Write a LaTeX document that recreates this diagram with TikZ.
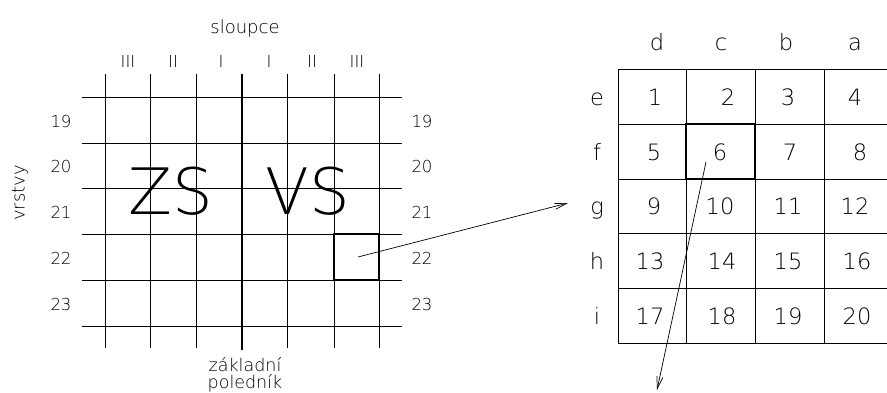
\documentclass[tikz,border=0pt]{standalone}
\usepackage{fontspec}
\IfFontExistsTF{DejaVu Sans ExtraLight}
  {\setmainfont{DejaVu Sans ExtraLight}\def\txtcol{black}}
  {\setmainfont{DejaVu Sans}\def\txtcol{black!60}}
\usetikzlibrary{arrows.meta}
\begin{document}
\begin{tikzpicture}[x=1pt,y=-1pt,
  gridline/.style={line width=0.8pt, black},
  boldline/.style={line width=2.6pt, black},
  txt/.style={inner sep=0pt, anchor=base, text=\txtcol},
  small/.style={txt, font=\fontsize{16.5}{16.5}\selectfont},
  mid/.style={txt, font=\fontsize{18}{18}\selectfont},
  foot/.style={txt, font=\fontsize{17.5}{17.5}\selectfont},
  big/.style={txt, font=\fontsize{22.5}{22.5}\selectfont},
  huge/.style={txt, font=\fontsize{64}{64}\selectfont},
  link/.style={line width=0.7pt, black, -{Straight Barb[length=12pt,width=6pt]}}]
\useasboundingbox (0,0) rectangle (887,392);
\clip (0,0) rectangle (887,392);

% ---- left grid ----
\foreach \x in {105,150,196,287,334,379} \draw[gridline] (\x,74) -- (\x,348);
\foreach \y in {97,143,188,234,280,326} \draw[gridline] (82,\y) -- (402,\y);
\draw[boldline] (242,74) -- (242,350);
\node[draw, boldline, minimum width=45pt, minimum height=46pt, inner sep=0pt] (sel) at (356.5,257) {};

\node[mid] (sloupce) at (245,33) {sloupce};
\node[small] (cw3) at (128,67) {III};
\node[small] (cw2) at (173,67) {II};
\node[small] (cw1) at (221,67) {I};
\node[small] (ce1) at (269,67) {I};
\node[small] (ce2) at (312,67) {II};
\node[small] (ce3) at (357,67) {III};

\foreach \n/\y in {19/127,20/172,21/218,22/264,23/310} {
  \node[small] (l\n) at (61,\y) {\n};
  \node[small] (r\n) at (422,\y) {\n};
}
\node[mid, rotate=90, anchor=center] (vrstvy) at (20,193) {vrstvy};
\node[huge] (zs) at (171,214) {ZS};
\node[huge] (vs) at (308,214) {VS};
\node[foot] (zakl) at (245,371) {základní};
\node[foot] (poled) at (245,388.5) {poledník};

% ---- right grid ----
\foreach \x in {618,686,755,824,892} \draw[gridline] (\x,69) -- (\x,343);
\foreach \y in {69,124,179,233,288,343} \draw[gridline] (618,\y) -- (892,\y);
\node[draw, boldline, minimum width=69pt, minimum height=55pt, inner sep=0pt] (c6) at (720.5,151.5) {};

\foreach \c/\x in {d/657,c/721,b/786,a/855} \node[big] (col\c) at (\x,50) {\c};
\foreach \r/\y in {e/105,f/160,g/214,h/269,i/324} \node[big] (row\r) at (597,\y) {\r};

\foreach \n/\x/\y in {1/655/105,2/728/105,3/788/105,4/855/105,
                      5/654/160,6/720/160,7/790/160,8/860/160,
                      9/654/214,10/720/214,11/788/214,12/855/214,
                      13/650/269,14/722/269,15/788/269,16/857/269,
                      17/650/324,18/722/324,19/788/324,20/857/324}
  \node[big] (n\n) at (\x,\y) {\n};

% ---- connectors ----
\coordinate (a1end) at ([xshift=-22pt]rowg.west |- 0,203);
\coordinate (a2start) at ([xshift=-14.5pt,yshift=-10.5pt]c6.center);
\coordinate (a2end) at (657,390);
\draw[link] (sel.center) ++(1.5pt,0) -- (a1end);
\draw[link] (a2start) -- (a2end);
\end{tikzpicture}
\end{document}
